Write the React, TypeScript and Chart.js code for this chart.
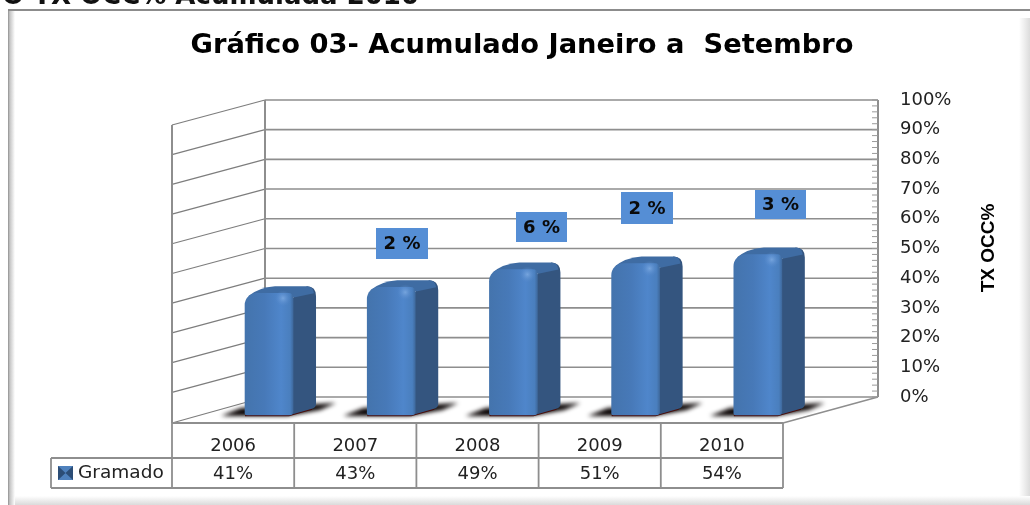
import React, { useEffect, useRef } from "react";
import { Chart, registerables } from "chart.js";

Chart.register(...registerables);

const years = ["2006", "2007", "2008", "2009", "2010"];
const gramado = [41, 43, 49, 51, 54];
const axisTicks = [0, 10, 20, 30, 40, 50, 60, 70, 80, 90, 100];
const deltaLabels = ["2 %", "6 %", "2 %", "3 %"];
const chartTitle = "Gráfico 03- Acumulado Janeiro a  Setembro";
const pageHeading = "O TX OCC% Acumulada 2010";
const axisTitle = "TX OCC%";
const seriesName = "Gramado";

const UI_FONT = '"DejaVu Sans", sans-serif';
const GRID = "#8e8e8e";

// Layout of the page furniture (walls, table, note boxes)
const BACK_LEFT = 265;
const BACK_RIGHT = 878;
const WALL_DX = 93;
const WALL_DY = 25;
const TABLE_TOP = 423;
const TABLE_ROW = 458;
const TABLE_BOTTOM = 488;
const TABLE_LEFT = 51;
const SIDE_DX = 23;
const SIDE_DY = 7;
const NOTE_BOXES = [
  { x: 376, y: 228, w: 52, h: 31 },
  { x: 516, y: 212, w: 51, h: 30 },
  { x: 621, y: 192, w: 52, h: 32 },
  { x: 755, y: 190, w: 51, h: 29 },
];

function fixBox(s: any, size: { width?: number; height?: number }) {
  if (size.width !== undefined) s.width = size.width;
  if (size.height !== undefined) s.height = size.height;
  s.paddingTop = 0;
  s.paddingBottom = 0;
  s.paddingLeft = 0;
  s.paddingRight = 0;
}

const framePlugin = {
  id: "frame",
  beforeDraw(chart: any) {
    const { ctx, width, height } = chart;
    ctx.save();
    ctx.fillStyle = "#ffffff";
    ctx.fillRect(0, 0, width, height);

    let g = ctx.createLinearGradient(8, 0, 15, 0);
    g.addColorStop(0, "#8f8f8f");
    g.addColorStop(0.25, "#c4c4c4");
    g.addColorStop(1, "#ffffff");
    ctx.fillStyle = g;
    ctx.fillRect(8, 10, 7, height - 10);

    g = ctx.createLinearGradient(1019, 0, 1030, 0);
    g.addColorStop(0, "#ffffff");
    g.addColorStop(1, "#dcdcdc");
    ctx.fillStyle = g;
    ctx.fillRect(1019, 18, 11, height - 18);

    g = ctx.createLinearGradient(0, 496, 0, 505);
    g.addColorStop(0, "#ffffff");
    g.addColorStop(1, "#dadada");
    ctx.fillStyle = g;
    ctx.fillRect(15, 496, width - 15, 9);

    ctx.fillStyle = "#8c8c8c";
    ctx.fillRect(8, 9, width - 8, 2);

    ctx.fillStyle = "#111";
    ctx.font = `bold 26px ${UI_FONT}`;
    ctx.textAlign = "left";
    ctx.textBaseline = "alphabetic";
    ctx.fillText(pageHeading, 2, 4);
    ctx.restore();
  },
};

const wallsPlugin = {
  id: "walls",
  beforeDatasetsDraw(chart: any) {
    const { ctx, scales } = chart;
    const ax = scales.y2;
    const x = scales.x;
    ctx.save();
    ctx.lineCap = "butt";

    // slanted lines on the left wall
    ctx.strokeStyle = "#7d7d7d";
    ctx.lineWidth = 1.2;
    axisTicks.forEach((v) => {
      const p = ax.getPixelForValue(v);
      ctx.beginPath();
      ctx.moveTo(BACK_LEFT, p);
      ctx.lineTo(BACK_LEFT - WALL_DX, p + (v === 0 ? WALL_DY + 1 : WALL_DY));
      ctx.stroke();
    });

    // lines on the back wall
    ctx.strokeStyle = GRID;
    ctx.lineWidth = 1.6;
    axisTicks.forEach((v) => {
      const p = ax.getPixelForValue(v);
      ctx.beginPath();
      ctx.moveTo(BACK_LEFT, p);
      ctx.lineTo(BACK_RIGHT, p);
      ctx.stroke();
    });

    const top = ax.getPixelForValue(100);
    const bottom = ax.getPixelForValue(0);

    // wall edges
    ctx.lineWidth = 2;
    ctx.beginPath();
    ctx.moveTo(BACK_LEFT, top);
    ctx.lineTo(BACK_LEFT, bottom);
    ctx.moveTo(BACK_LEFT - WALL_DX, top + WALL_DY);
    ctx.lineTo(BACK_LEFT - WALL_DX, TABLE_TOP);
    ctx.moveTo(BACK_RIGHT, top);
    ctx.lineTo(BACK_RIGHT, bottom);
    ctx.stroke();

    // floor edge on the right
    ctx.lineWidth = 1.4;
    ctx.beginPath();
    ctx.moveTo(BACK_RIGHT, bottom);
    ctx.lineTo(x.right, TABLE_TOP);
    ctx.stroke();

    // minor ticks on the right edge
    ctx.lineWidth = 1;
    ctx.strokeStyle = "#9a9a9a";
    for (let v = 0; v <= 100; v += 2) {
      const p = ax.getPixelForValue(v);
      ctx.beginPath();
      ctx.moveTo(BACK_RIGHT - 6, p);
      ctx.lineTo(BACK_RIGHT, p);
      ctx.stroke();
    }

    // floor shadows and the side + top faces of the bars
    const meta = chart.getDatasetMeta(0);
    meta.data.forEach((el: any) => {
      const L = el.x - el.width / 2;
      const R = el.x + el.width / 2;
      const base = el.base;
      const t = el.y;

      ctx.save();
      ctx.filter = "blur(2px)";
      ctx.fillStyle = "#0a0404";
      ctx.beginPath();
      ctx.moveTo(L - 24, base + 1);
      ctx.lineTo(L - 4, base - 7);
      ctx.lineTo(R + SIDE_DX + 20, base - 12);
      ctx.lineTo(R + SIDE_DX + 4, base - 5);
      ctx.lineTo(R - 6, base + 1);
      ctx.closePath();
      ctx.fill();
      ctx.restore();

      // dark red foot below the bar
      ctx.strokeStyle = "#4a0f0c";
      ctx.lineWidth = 1.5;
      ctx.beginPath();
      ctx.moveTo(L, base + 0.5);
      ctx.lineTo(R - 4, base + 0.5);
      ctx.lineTo(R + SIDE_DX - 4, base - SIDE_DY + 1);
      ctx.stroke();

      // side face
      ctx.fillStyle = "#34557f";
      ctx.beginPath();
      ctx.moveTo(R - 3, t + 8);
      ctx.lineTo(R + 4, t);
      ctx.lineTo(R + SIDE_DX - 9, t - SIDE_DY);
      ctx.quadraticCurveTo(R + SIDE_DX, t - SIDE_DY, R + SIDE_DX, t + 3);
      ctx.lineTo(R + SIDE_DX, base - SIDE_DY - 4);
      ctx.quadraticCurveTo(R + SIDE_DX, base - SIDE_DY, R + SIDE_DX - 5, base - SIDE_DY + 1);
      ctx.lineTo(R - 3, base);
      ctx.closePath();
      ctx.fill();

      // top face
      ctx.fillStyle = "#3f6ca3";
      ctx.beginPath();
      ctx.moveTo(L + 3, t + 3);
      ctx.quadraticCurveTo(L + 14, t - SIDE_DY + 1, L + 30, t - SIDE_DY);
      ctx.lineTo(R + SIDE_DX - 9, t - SIDE_DY);
      ctx.quadraticCurveTo(R + SIDE_DX - 3, t - SIDE_DY, R + SIDE_DX - 2, t);
      ctx.lineTo(R + 2, t + 4);
      ctx.lineTo(L + 12, t + 4);
      ctx.closePath();
      ctx.fill();
    });
    ctx.restore();
  },
  afterDatasetsDraw(chart: any) {
    const { ctx } = chart;
    ctx.save();
    chart.getDatasetMeta(0).data.forEach((el: any) => {
      const hx = el.x + el.width / 2 - 10;
      const hy = el.y + 5;
      const g = ctx.createRadialGradient(hx, hy, 0, hx, hy, 8);
      g.addColorStop(0, "rgba(125,170,225,0.85)");
      g.addColorStop(1, "rgba(90,140,205,0)");
      ctx.fillStyle = g;
      ctx.fillRect(hx - 8, hy - 8, 16, 16);
    });
    ctx.restore();
  },
};

const tablePlugin = {
  id: "dataTable",
  afterDraw(chart: any) {
    const { ctx, scales } = chart;
    const x = scales.x;
    const cell = (x.right - x.left) / years.length;
    ctx.save();
    ctx.strokeStyle = GRID;
    ctx.lineWidth = 1.8;
    ctx.beginPath();
    ctx.moveTo(x.left, TABLE_TOP);
    ctx.lineTo(x.right, TABLE_TOP);
    ctx.moveTo(TABLE_LEFT, TABLE_ROW);
    ctx.lineTo(x.right, TABLE_ROW);
    ctx.moveTo(TABLE_LEFT, TABLE_BOTTOM);
    ctx.lineTo(x.right, TABLE_BOTTOM);
    ctx.moveTo(TABLE_LEFT, TABLE_ROW);
    ctx.lineTo(TABLE_LEFT, TABLE_BOTTOM);
    for (let i = 0; i <= years.length; i++) {
      ctx.moveTo(x.left + i * cell, TABLE_TOP);
      ctx.lineTo(x.left + i * cell, TABLE_BOTTOM);
    }
    ctx.stroke();

    // legend key
    ctx.fillStyle = "#4f81bd";
    ctx.fillRect(58, 466, 15, 14);
    ctx.fillStyle = "#2c4d76";
    ctx.beginPath();
    ctx.moveTo(58, 466);
    ctx.lineTo(65.5, 473);
    ctx.lineTo(73, 466);
    ctx.lineTo(73, 480);
    ctx.lineTo(65.5, 473);
    ctx.lineTo(58, 480);
    ctx.closePath();
    ctx.fill();

    ctx.fillStyle = "#222";
    ctx.font = `18.5px ${UI_FONT}`;
    ctx.textAlign = "left";
    ctx.textBaseline = "middle";
    ctx.fillText(seriesName, 78, 473);

    // note boxes with the yearly change
    deltaLabels.forEach((label, i) => {
      const b = NOTE_BOXES[i];
      ctx.fillStyle = "#558ed5";
      ctx.fillRect(b.x, b.y, b.w, b.h);
      ctx.fillStyle = "#0a0a0a";
      ctx.font = `bold 18px ${UI_FONT}`;
      ctx.textAlign = "center";
      ctx.textBaseline = "middle";
      ctx.fillText(label, b.x + b.w / 2, b.y + b.h / 2 + 1);
    });

    // rotated axis title
    ctx.save();
    ctx.translate(989, 248);
    ctx.rotate(-Math.PI / 2);
    ctx.fillStyle = "#000";
    ctx.font = 'bold 19px "Liberation Sans Narrow", "Liberation Sans", sans-serif';
    ctx.textAlign = "center";
    ctx.textBaseline = "middle";
    ctx.fillText(axisTitle, 0, 0);
    ctx.restore();
    ctx.restore();
  },
};

function frontGradient(ctx: any) {
  const chart = ctx.chart;
  const xs = chart.scales.x2;
  if (!xs || typeof ctx.dataIndex !== "number") return "#4677b6";
  const c = xs.getPixelForValue(ctx.dataIndex);
  if (!Number.isFinite(c)) return "#4677b6";
  const w = 48;
  const g = chart.ctx.createLinearGradient(c - w / 2, 0, c + w / 2, 0);
  g.addColorStop(0, "#4474ad");
  g.addColorStop(0.4, "#4779b8");
  g.addColorStop(0.75, "#4f86cb");
  g.addColorStop(0.94, "#4a7fbe");
  g.addColorStop(1, "#3f6a9e");
  return g;
}

export default function App() {
  const ref = useRef<HTMLCanvasElement>(null);
  useEffect(() => {
    const chart = new Chart(ref.current as any, {
      type: "bar",
      data: {
        labels: years,
        datasets: [
          {
            label: seriesName,
            data: gramado.map((v, i) => ({ x: i, y: v })) as any,
            xAxisID: "x2",
            yAxisID: "y",
            backgroundColor: frontGradient as any,
            borderWidth: 0,
            borderSkipped: false,
            borderRadius: { topLeft: 12, topRight: 5, bottomLeft: 2, bottomRight: 4 },
            barThickness: 48,
          },
        ],
      },
      plugins: [framePlugin, wallsPlugin, tablePlugin],
      options: {
        animation: false,
        responsive: false,
        devicePixelRatio: 1,
        layout: { padding: { left: 14, right: 0, top: 0, bottom: 0 } },
        plugins: {
          legend: { display: false },
          tooltip: { enabled: false },
          title: {
            display: true,
            text: chartTitle,
            color: "#000",
            font: { family: "DejaVu Sans", size: 27.3, weight: "bold", lineHeight: 1.2 },
            padding: { top: 30, bottom: 37.2 },
          },
        },
        scales: {
          x: {
            axis: "x",
            type: "category",
            position: "bottom",
            offset: true,
            grid: { display: false },
            border: { display: false },
            ticks: {
              autoSkip: false,
              maxRotation: 0,
              padding: 2,
              color: "#222",
              font: { family: "DejaVu Sans", size: 18, lineHeight: "27.5px" },
              callback: (_v: any, i: number) => [years[i], `${gramado[i]}%`],
            },
            afterFit: (s: any) => fixBox(s, { height: 505 - TABLE_TOP }),
          },
          x2: {
            axis: "x",
            type: "linear",
            display: false,
            offset: false,
            min: -0.794,
            max: 4.206,
            afterFit: (s: any) => fixBox(s, { height: 0 }),
          },
          y: {
            axis: "y",
            type: "linear",
            position: "left",
            min: -2.69,
            max: 106.06,
            grid: { display: false },
            border: { display: false },
            ticks: { display: false },
            afterFit: (s: any) => fixBox(s, { width: 158 }),
          },
          y2: {
            axis: "y",
            type: "linear",
            position: "right",
            min: -8.75,
            max: 100,
            grid: { display: false, drawTicks: false },
            border: { display: false },
            afterBuildTicks: (s: any) => {
              s.ticks = axisTicks.map((value) => ({ value }));
            },
            ticks: {
              autoSkip: false,
              padding: 117,
              color: "#222",
              font: { family: "DejaVu Sans", size: 18 },
              callback: (v: any) => `${v}%`,
            },
            afterFit: (s: any) => fixBox(s, { width: 247 }),
          },
        },
      },
    } as any);
    return () => chart.destroy();
  }, []);
  return (
    <canvas
      ref={ref}
      width={1030}
      height={505}
      style={{ position: "absolute", left: 0, top: 0, width: 1030, height: 505 }}
    />
  );
}
